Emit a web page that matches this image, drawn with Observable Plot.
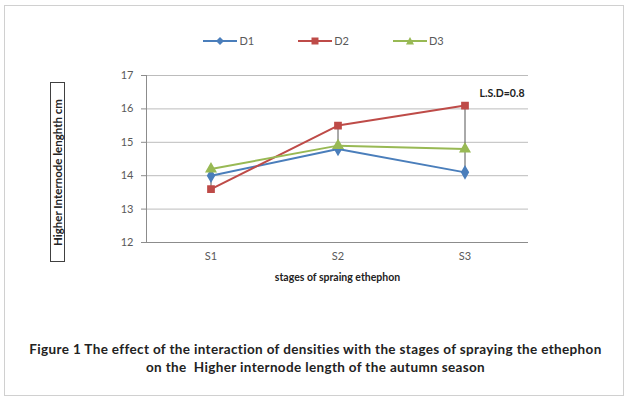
<!DOCTYPE html>
<html><head><meta charset="utf-8">
<script src="https://cdn.jsdelivr.net/npm/d3@7"></script>
<script src="https://cdn.jsdelivr.net/npm/@observablehq/plot@0.6"></script>
<style>
body{margin:0;background:#fff;font-family:Lato,"Open Sans",sans-serif;}
#wrap{position:relative;width:631px;height:403px;overflow:hidden;}
#frame{position:absolute;left:4px;top:5px;width:620px;height:391px;border:1px solid #d0d0d0;box-sizing:border-box;}
#legend{position:absolute;top:34px;left:8px;width:631px;display:flex;justify-content:center;gap:44px;font-size:11px;color:#595959;}
#legend span{display:flex;align-items:center;gap:2px;}
#plot{position:absolute;left:0;top:60px;}
#ytitle{position:absolute;left:50px;top:82px;width:15px;height:180px;border:1px solid #404040;box-sizing:border-box;display:flex;align-items:center;justify-content:center;}
#ytitle div{transform:rotate(-90deg);white-space:nowrap;font-size:11.5px;font-weight:bold;color:#222;}
#caption{position:absolute;top:340px;left:0;width:631px;text-align:center;font-size:13.5px;font-weight:bold;line-height:18px;color:#222;white-space:pre;letter-spacing:0.35px;}
</style></head>
<body><div id="wrap"><div id="frame"></div><div id="legend"></div><div id="ytitle"><div></div></div><div id="plot"></div><div id="caption"></div></div>
<script>
const stages = ["S1","S2","S3"];
const seriesNames = ["D1","D2","D3"];
const d1 = [14.0, 14.8, 14.1];
const d2 = [13.6, 15.5, 16.1];
const d3 = [14.2, 14.9, 14.8];
const yTicks = [12,13,14,15,16,17];
const colors = ["#4a7ebb","#be4b48","#98b954"];
const symbols = ["diamond","square","triangle"];
const yTitle = "Higher Internode lenghth cm";
const xTitle = "stages of spraing ethephon";
const lsdLabel = "L.S.D=0.8";
const captionLines = ["Figure 1 The effect of the interaction of densities with the stages of spraying the ethephon","on the  Higher internode length of the autumn season"];

const all = [d1,d2,d3];
const data = [];
seriesNames.forEach((s,i)=>stages.forEach((st,j)=>data.push({series:s, stage:st, value:all[i][j]})));
const hilo = stages.map((st,j)=>({stage:st, lo:Math.min(...all.map(a=>a[j])), hi:Math.max(...all.map(a=>a[j]))}));

const plot = Plot.plot({
  width:631, height:230,
  marginLeft:146, marginRight:103, marginTop:15, marginBottom:48,
  style:{fontFamily:"Lato, 'Open Sans', sans-serif", fontSize:"11px", color:"#595959", background:"transparent"},
  x:{type:"band", domain:stages, padding:0, label:null, tickSize:0, tickPadding:10},
  y:{domain:[12,17], ticks:yTicks, tickFormat:"d", label:null},
  color:{domain:seriesNames, range:colors},
  symbol:{domain:seriesNames, range:symbols},
  marks:[
    Plot.gridY(yTicks.slice(1), {stroke:"#bcbcbc", strokeOpacity:1, strokeWidth:1}),
    Plot.ruleY([12], {stroke:"#8c8c8c"}),
    Plot.axisY({ticks:yTicks, tickFormat:"d", tickSize:5, tickPadding:8, stroke:"#8c8c8c", fill:"#595959", label:null}),
    Plot.frame({anchor:"left", stroke:"#8c8c8c"}),
    Plot.ruleX(hilo, {x:"stage", y1:"lo", y2:"hi", stroke:"#555", strokeWidth:1}),
    Plot.line(data, {x:"stage", y:"value", z:"series", stroke:"series", strokeWidth:2}),
    Plot.dot(data, {x:"stage", y:"value", symbol:"series", fill:"series", stroke:"series", r:3.5}),
    Plot.text([lsdLabel], {frameAnchor:"top-right", dx:-4, dy:14, text:d=>d, fontWeight:"bold", fontSize:10.5, fill:"#222", textAnchor:"end"}),
    Plot.text([xTitle], {frameAnchor:"bottom", dy:38, text:d=>d, fontWeight:"bold", fontSize:10.5, fill:"#222"})
  ]
});
document.getElementById("plot").appendChild(plot);

// legend
const leg = document.getElementById("legend");
const paths = {diamond:"M10,2 L14,6 L10,10 L6,6Z", square:"M6.5,2.5h7v7h-7z", triangle:"M10,2 L14,9.5 L6,9.5Z"};
seriesNames.forEach((s,i)=>{
  const sp = document.createElement("span");
  sp.innerHTML = `<svg width="34" height="12"><line x1="0" x2="34" y1="6" y2="6" stroke="${colors[i]}" stroke-width="2"/><g transform="translate(7,0)"><path d="${paths[symbols[i]]}" fill="${colors[i]}"/></g></svg>${s}`;
  leg.appendChild(sp);
});
document.querySelector("#ytitle div").textContent = yTitle;
document.getElementById("caption").textContent = captionLines.join("\n");
</script>
</body></html>
